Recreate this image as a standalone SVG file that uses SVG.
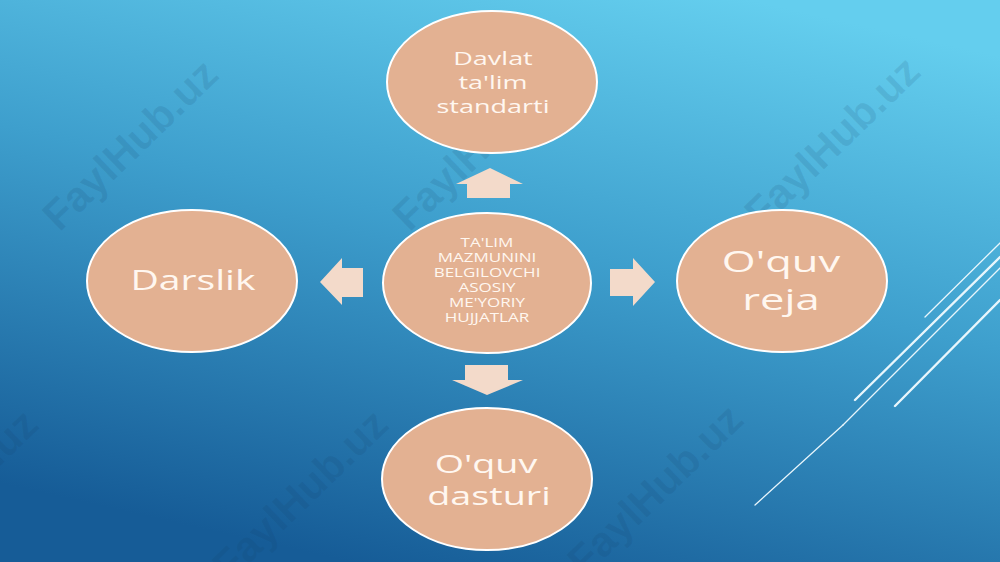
<svg xmlns="http://www.w3.org/2000/svg" width="1000" height="562" viewBox="0 0 1000 562">
  <defs>
    <linearGradient id="bg" x1="0.75" y1="0" x2="0.35" y2="1">
      <stop offset="0" stop-color="#64CEEE"/>
      <stop offset="0.45" stop-color="#3E9FCD"/>
      <stop offset="1" stop-color="#165C97"/>
    </linearGradient>
    <style>
      .node { fill: #E3B192; stroke: #FFFFFF; stroke-width: 2; }
      .lbl { font-family: "Open Sans", "Noto Sans", sans-serif; fill: #FFF7F0; text-anchor: middle; }
      .arrow { fill: #F3DACA; }
      .wm { font-family: "Liberation Sans", Arial, sans-serif; font-weight: bold; font-size: 42px; fill: #143C64; fill-opacity: 0.12; text-anchor: middle; }
      .deco { stroke: #E8F6FC; fill: none; stroke-linecap: round; }
    </style>
  </defs>

  <rect x="0" y="0" width="1000" height="562" fill="url(#bg)"/>

  <g id="watermarks">
    <text class="wm" transform="translate(140,155) rotate(-44)">FaylHub.uz</text>
    <text class="wm" transform="translate(490,155) rotate(-44)">FaylHub.uz</text>
    <text class="wm" transform="translate(842,152) rotate(-44)">FaylHub.uz</text>
    <text class="wm" transform="translate(-40,505) rotate(-44)">FaylHub.uz</text>
    <text class="wm" transform="translate(310,505) rotate(-44)">FaylHub.uz</text>
    <text class="wm" transform="translate(665,500) rotate(-44)">FaylHub.uz</text>
  </g>

  <g id="decor-lines">
    <line class="deco" x1="925" y1="317" x2="1000" y2="243" stroke-width="1.3"/>
    <line class="deco" x1="855" y1="400" x2="1000" y2="257" stroke-width="2.4"/>
    <line class="deco" x1="843" y1="425" x2="1000" y2="268" stroke-width="1.3"/>
    <line class="deco" x1="755" y1="505" x2="843" y2="425" stroke-width="1.3"/>
    <line class="deco" x1="895" y1="406" x2="1000" y2="300" stroke-width="2.4"/>
  </g>

  <g id="connectors">
    <polygon class="arrow" points="490,168 523,184 510,184 510,198 467,198 467,184 456,184"/>
    <polygon class="arrow" points="465,365 508,365 508,380 523,380 487,395 452,380 465,380"/>
    <polygon class="arrow" points="320,282 342,258 342,268 363,268 363,297 342,297 342,305"/>
    <polygon class="arrow" points="610,269 633,269 633,258 655,282 633,306 633,296 610,296"/>
  </g>

  <g id="node-center">
    <ellipse class="node" cx="487" cy="283" rx="104" ry="70"/>
    <g class="lbl" font-size="12">
      <text transform="translate(487,247) scale(1.42,1)">TA'LIM</text>
      <text transform="translate(487,262) scale(1.42,1)">MAZMUNINI</text>
      <text transform="translate(487,277) scale(1.42,1)">BELGILOVCHI</text>
      <text transform="translate(487,292) scale(1.42,1)">ASOSIY</text>
      <text transform="translate(487,307) scale(1.42,1)">ME'YORIY</text>
      <text transform="translate(487,322) scale(1.42,1)">HUJJATLAR</text>
    </g>
  </g>

  <g id="node-top">
    <ellipse class="node" cx="492" cy="82" rx="105" ry="71"/>
    <g class="lbl" font-size="18">
      <text transform="translate(493,65) scale(1.5,1)">Davlat</text>
      <text transform="translate(493,89) scale(1.5,1)">ta'lim</text>
      <text transform="translate(493,113) scale(1.5,1)">standarti</text>
    </g>
  </g>

  <g id="node-left">
    <ellipse class="node" cx="192" cy="281" rx="105" ry="71"/>
    <text class="lbl" font-size="27" transform="translate(193,290) scale(1.45,1)">Darslik</text>
  </g>

  <g id="node-right">
    <ellipse class="node" cx="782" cy="281" rx="105" ry="71"/>
    <g class="lbl" font-size="30">
      <text transform="translate(781,272) scale(1.45,1)">O'quv</text>
      <text transform="translate(781,310) scale(1.45,1)">reja</text>
    </g>
  </g>

  <g id="node-bottom">
    <ellipse class="node" cx="487" cy="479" rx="105" ry="71"/>
    <g class="lbl" font-size="26">
      <text transform="translate(486,473) scale(1.45,1)">O'quv</text>
      <text transform="translate(489,505) scale(1.45,1)">dasturi</text>
    </g>
  </g>
</svg>
